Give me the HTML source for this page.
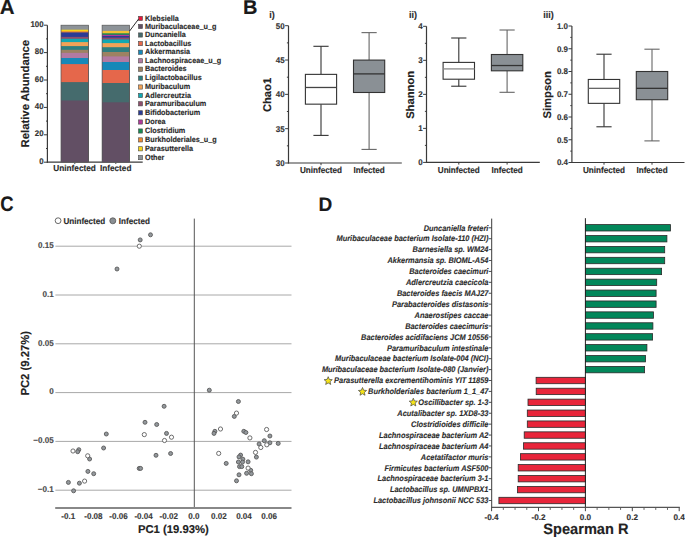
<!DOCTYPE html>
<html><head><meta charset="utf-8"><style>
html,body{margin:0;padding:0;background:#fff;}
svg{display:block;}
text{font-family:"Liberation Sans",sans-serif;font-weight:bold;text-rendering:geometricPrecision;stroke-width:0.14px;}
</style></head><body>
<svg width="685" height="537" viewBox="0 0 685 537">
<rect x="0" y="0" width="685" height="537" fill="#fff"/>
<text x="0" y="0" transform="translate(-0.30 13.80)" text-anchor="start" fill="#1a1a1a" stroke="#1a1a1a" style="font-size:20.50px;">A</text>
<text x="0" y="0" transform="translate(243.10 13.80)" text-anchor="start" fill="#1a1a1a" stroke="#1a1a1a" style="font-size:20.00px;">B</text>
<text x="0" y="0" transform="translate(0.17 211.20) scale(0.8772 1)" text-anchor="start" fill="#1a1a1a" stroke="#1a1a1a" style="font-size:21.09px;">C</text>
<text x="0" y="0" transform="translate(318.60 210.80) scale(0.9709 1)" text-anchor="start" fill="#1a1a1a" stroke="#1a1a1a" style="font-size:19.67px;">D</text>
<line x1="47.40" y1="25.20" x2="47.40" y2="162.70" stroke="#3a3a3a" stroke-width="1.2" />
<line x1="46.80" y1="162.20" x2="142.70" y2="162.20" stroke="#3a3a3a" stroke-width="1.2" />
<line x1="44.00" y1="162.20" x2="47.40" y2="162.20" stroke="#3a3a3a" stroke-width="1.0" />
<text x="0" y="0" transform="translate(43.60 163.70) scale(0.9615 1)" text-anchor="end" fill="#333" stroke="#333" style="font-size:8.22px;">0</text>
<line x1="46.00" y1="148.50" x2="47.40" y2="148.50" stroke="#3a3a3a" stroke-width="1.0" />
<line x1="44.00" y1="134.80" x2="47.40" y2="134.80" stroke="#3a3a3a" stroke-width="1.0" />
<text x="0" y="0" transform="translate(43.60 136.30) scale(0.9615 1)" text-anchor="end" fill="#333" stroke="#333" style="font-size:8.22px;">20</text>
<line x1="46.00" y1="121.10" x2="47.40" y2="121.10" stroke="#3a3a3a" stroke-width="1.0" />
<line x1="44.00" y1="107.40" x2="47.40" y2="107.40" stroke="#3a3a3a" stroke-width="1.0" />
<text x="0" y="0" transform="translate(43.60 108.90) scale(0.9615 1)" text-anchor="end" fill="#333" stroke="#333" style="font-size:8.22px;">40</text>
<line x1="46.00" y1="93.70" x2="47.40" y2="93.70" stroke="#3a3a3a" stroke-width="1.0" />
<line x1="44.00" y1="80.00" x2="47.40" y2="80.00" stroke="#3a3a3a" stroke-width="1.0" />
<text x="0" y="0" transform="translate(43.60 81.50) scale(0.9615 1)" text-anchor="end" fill="#333" stroke="#333" style="font-size:8.22px;">60</text>
<line x1="46.00" y1="66.30" x2="47.40" y2="66.30" stroke="#3a3a3a" stroke-width="1.0" />
<line x1="44.00" y1="52.60" x2="47.40" y2="52.60" stroke="#3a3a3a" stroke-width="1.0" />
<text x="0" y="0" transform="translate(43.60 54.10) scale(0.9615 1)" text-anchor="end" fill="#333" stroke="#333" style="font-size:8.22px;">80</text>
<line x1="46.00" y1="38.90" x2="47.40" y2="38.90" stroke="#3a3a3a" stroke-width="1.0" />
<line x1="44.00" y1="25.20" x2="47.40" y2="25.20" stroke="#3a3a3a" stroke-width="1.0" />
<text x="0" y="0" transform="translate(43.60 26.70) scale(0.9615 1)" text-anchor="end" fill="#333" stroke="#333" style="font-size:8.22px;">100</text>
<text x="0" y="0" transform="translate(29.30 147.40) rotate(-90)" text-anchor="start" fill="#222" stroke="#222" style="font-size:11.30px;">Relative Abundance</text>
<text x="0" y="0" transform="translate(74.60 170.90) scale(0.9524 1)" text-anchor="middle" fill="#2a2a2a" stroke="#2a2a2a" style="font-size:8.66px;">Uninfected</text>
<text x="0" y="0" transform="translate(115.70 170.90) scale(0.9524 1)" text-anchor="middle" fill="#2a2a2a" stroke="#2a2a2a" style="font-size:8.61px;">Infected</text>
<line x1="74.80" y1="162.20" x2="74.80" y2="164.00" stroke="#3a3a3a" stroke-width="0.9" />
<line x1="115.80" y1="162.20" x2="115.80" y2="164.00" stroke="#3a3a3a" stroke-width="0.9" />
<rect x="61.00" y="25.20" width="27.60" height="137.00" fill="#8d9398"/>
<rect x="61.00" y="29.70" width="27.60" height="132.50" fill="#f6d41a"/>
<rect x="61.00" y="31.20" width="27.60" height="131.00" fill="#ec8a36"/>
<rect x="61.00" y="32.40" width="27.60" height="129.80" fill="#2b3b95"/>
<rect x="61.00" y="36.90" width="27.60" height="125.30" fill="#8e4e6c"/>
<rect x="61.00" y="38.80" width="27.60" height="123.40" fill="#11a8b1"/>
<rect x="61.00" y="42.10" width="27.60" height="120.10" fill="#f2a257"/>
<rect x="61.00" y="46.10" width="27.60" height="116.10" fill="#2e7f80"/>
<rect x="61.00" y="49.80" width="27.60" height="112.40" fill="#9d8262"/>
<rect x="61.00" y="52.90" width="27.60" height="109.30" fill="#b27aa2"/>
<rect x="61.00" y="58.00" width="27.60" height="104.20" fill="#1788b8"/>
<rect x="61.00" y="64.10" width="27.60" height="98.10" fill="#e5674b"/>
<rect x="61.00" y="82.10" width="27.60" height="80.10" fill="#456b6d"/>
<rect x="61.00" y="100.50" width="27.60" height="61.70" fill="#624f64"/>
<rect x="61.00" y="25.2" width="27.60" height="137.00" fill="none" stroke="#555" stroke-width="0.7"/>
<rect x="102.10" y="25.20" width="27.40" height="137.00" fill="#8d9398"/>
<rect x="102.10" y="30.90" width="27.40" height="131.30" fill="#f4c133"/>
<rect x="102.10" y="33.30" width="27.40" height="128.90" fill="#168a52"/>
<rect x="102.10" y="34.80" width="27.40" height="127.40" fill="#b0399b"/>
<rect x="102.10" y="36.00" width="27.40" height="126.20" fill="#2b3b95"/>
<rect x="102.10" y="37.60" width="27.40" height="124.60" fill="#8e4e6c"/>
<rect x="102.10" y="39.40" width="27.40" height="122.80" fill="#11a8b1"/>
<rect x="102.10" y="43.10" width="27.40" height="119.10" fill="#f2a257"/>
<rect x="102.10" y="47.20" width="27.40" height="115.00" fill="#2e7f80"/>
<rect x="102.10" y="52.00" width="27.40" height="110.20" fill="#9d8262"/>
<rect x="102.10" y="56.40" width="27.40" height="105.80" fill="#b27aa2"/>
<rect x="102.10" y="62.00" width="27.40" height="100.20" fill="#1788b8"/>
<rect x="102.10" y="70.00" width="27.40" height="92.20" fill="#e5674b"/>
<rect x="102.10" y="83.00" width="27.40" height="79.20" fill="#456b6d"/>
<rect x="102.10" y="102.30" width="27.40" height="59.90" fill="#624f64"/>
<rect x="102.10" y="25.2" width="27.40" height="137.00" fill="none" stroke="#555" stroke-width="0.7"/>
<rect x="138.50" y="16.30" width="4.00" height="4.20" fill="#e5193b" stroke="#4a4a4a" stroke-width="0.6"/>
<text x="0" y="0" transform="translate(145.00 20.60) scale(0.9434 1)" text-anchor="start" fill="#2a2a2a" stroke="#2a2a2a" style="font-size:7.69px;">Klebsiella</text>
<rect x="138.50" y="24.40" width="4.00" height="4.20" fill="#624f64" stroke="#4a4a4a" stroke-width="0.6"/>
<text x="0" y="0" transform="translate(145.00 28.70) scale(0.9434 1)" text-anchor="start" fill="#2a2a2a" stroke="#2a2a2a" style="font-size:7.69px;">Muribaculaceae_u_g</text>
<rect x="138.50" y="32.90" width="4.00" height="4.20" fill="#456b6d" stroke="#4a4a4a" stroke-width="0.6"/>
<text x="0" y="0" transform="translate(145.00 37.20) scale(0.9434 1)" text-anchor="start" fill="#2a2a2a" stroke="#2a2a2a" style="font-size:7.69px;">Duncaniella</text>
<rect x="138.50" y="41.50" width="4.00" height="4.20" fill="#e5674b" stroke="#4a4a4a" stroke-width="0.6"/>
<text x="0" y="0" transform="translate(145.00 45.80) scale(0.9434 1)" text-anchor="start" fill="#2a2a2a" stroke="#2a2a2a" style="font-size:7.69px;">Lactobacillus</text>
<rect x="138.50" y="50.10" width="4.00" height="4.20" fill="#1788b8" stroke="#4a4a4a" stroke-width="0.6"/>
<text x="0" y="0" transform="translate(145.00 54.40) scale(0.9434 1)" text-anchor="start" fill="#2a2a2a" stroke="#2a2a2a" style="font-size:7.69px;">Akkermansia</text>
<rect x="138.50" y="58.70" width="4.00" height="4.20" fill="#b27aa2" stroke="#4a4a4a" stroke-width="0.6"/>
<text x="0" y="0" transform="translate(145.00 63.00) scale(0.9434 1)" text-anchor="start" fill="#2a2a2a" stroke="#2a2a2a" style="font-size:7.69px;">Lachnospiraceae_u_g</text>
<rect x="138.50" y="67.10" width="4.00" height="4.20" fill="#9d8262" stroke="#4a4a4a" stroke-width="0.6"/>
<text x="0" y="0" transform="translate(145.00 71.40) scale(0.9434 1)" text-anchor="start" fill="#2a2a2a" stroke="#2a2a2a" style="font-size:7.69px;">Bacteroides</text>
<rect x="138.50" y="76.00" width="4.00" height="4.20" fill="#2e7f80" stroke="#4a4a4a" stroke-width="0.6"/>
<text x="0" y="0" transform="translate(145.00 80.30) scale(0.9434 1)" text-anchor="start" fill="#2a2a2a" stroke="#2a2a2a" style="font-size:7.69px;">Ligilactobacillus</text>
<rect x="138.50" y="84.90" width="4.00" height="4.20" fill="#f2a257" stroke="#4a4a4a" stroke-width="0.6"/>
<text x="0" y="0" transform="translate(145.00 89.20) scale(0.9434 1)" text-anchor="start" fill="#2a2a2a" stroke="#2a2a2a" style="font-size:7.69px;">Muribaculum</text>
<rect x="138.50" y="93.40" width="4.00" height="4.20" fill="#11a8b1" stroke="#4a4a4a" stroke-width="0.6"/>
<text x="0" y="0" transform="translate(145.00 97.70) scale(0.9434 1)" text-anchor="start" fill="#2a2a2a" stroke="#2a2a2a" style="font-size:7.69px;">Adlercreutzia</text>
<rect x="138.50" y="101.70" width="4.00" height="4.20" fill="#8e4e6c" stroke="#4a4a4a" stroke-width="0.6"/>
<text x="0" y="0" transform="translate(145.00 106.00) scale(0.9434 1)" text-anchor="start" fill="#2a2a2a" stroke="#2a2a2a" style="font-size:7.69px;">Paramuribaculum</text>
<rect x="138.50" y="110.70" width="4.00" height="4.20" fill="#2b3b95" stroke="#4a4a4a" stroke-width="0.6"/>
<text x="0" y="0" transform="translate(145.00 115.00) scale(0.9434 1)" text-anchor="start" fill="#2a2a2a" stroke="#2a2a2a" style="font-size:7.69px;">Bifidobacterium</text>
<rect x="138.50" y="119.90" width="4.00" height="4.20" fill="#b0399b" stroke="#4a4a4a" stroke-width="0.6"/>
<text x="0" y="0" transform="translate(145.00 124.20) scale(0.9434 1)" text-anchor="start" fill="#2a2a2a" stroke="#2a2a2a" style="font-size:7.69px;">Dorea</text>
<rect x="138.50" y="128.90" width="4.00" height="4.20" fill="#168a52" stroke="#4a4a4a" stroke-width="0.6"/>
<text x="0" y="0" transform="translate(145.00 133.20) scale(0.9434 1)" text-anchor="start" fill="#2a2a2a" stroke="#2a2a2a" style="font-size:7.69px;">Clostridium</text>
<rect x="138.50" y="137.80" width="4.00" height="4.20" fill="#ec8a36" stroke="#4a4a4a" stroke-width="0.6"/>
<text x="0" y="0" transform="translate(145.00 142.10) scale(0.9434 1)" text-anchor="start" fill="#2a2a2a" stroke="#2a2a2a" style="font-size:7.69px;">Burkholderiales_u_g</text>
<rect x="138.50" y="146.70" width="4.00" height="4.20" fill="#f6d41a" stroke="#4a4a4a" stroke-width="0.6"/>
<text x="0" y="0" transform="translate(145.00 151.00) scale(0.9434 1)" text-anchor="start" fill="#2a2a2a" stroke="#2a2a2a" style="font-size:7.69px;">Parasutterella</text>
<rect x="138.50" y="155.50" width="4.00" height="4.20" fill="#8d9398" stroke="#4a4a4a" stroke-width="0.6"/>
<text x="0" y="0" transform="translate(145.00 159.80) scale(0.9434 1)" text-anchor="start" fill="#2a2a2a" stroke="#2a2a2a" style="font-size:7.69px;">Other</text>
<line x1="129.60" y1="31.00" x2="138.60" y2="19.00" stroke="#222" stroke-width="0.95" />
<line x1="288.50" y1="25.70" x2="288.50" y2="163.50" stroke="#3a3a3a" stroke-width="1.2" />
<line x1="287.90" y1="163.00" x2="401.80" y2="163.00" stroke="#3a3a3a" stroke-width="1.2" />
<line x1="285.10" y1="163.00" x2="288.50" y2="163.00" stroke="#3a3a3a" stroke-width="1.0" />
<text x="0" y="0" transform="translate(284.60 165.90) scale(0.9615 1)" text-anchor="end" fill="#333" stroke="#333" style="font-size:8.32px;">30</text>
<line x1="285.10" y1="128.68" x2="288.50" y2="128.68" stroke="#3a3a3a" stroke-width="1.0" />
<text x="0" y="0" transform="translate(284.60 131.58) scale(0.9615 1)" text-anchor="end" fill="#333" stroke="#333" style="font-size:8.32px;">35</text>
<line x1="285.10" y1="94.35" x2="288.50" y2="94.35" stroke="#3a3a3a" stroke-width="1.0" />
<text x="0" y="0" transform="translate(284.60 97.25) scale(0.9615 1)" text-anchor="end" fill="#333" stroke="#333" style="font-size:8.32px;">40</text>
<line x1="285.10" y1="60.02" x2="288.50" y2="60.02" stroke="#3a3a3a" stroke-width="1.0" />
<text x="0" y="0" transform="translate(284.60 62.92) scale(0.9615 1)" text-anchor="end" fill="#333" stroke="#333" style="font-size:8.32px;">45</text>
<line x1="285.10" y1="25.70" x2="288.50" y2="25.70" stroke="#3a3a3a" stroke-width="1.0" />
<text x="0" y="0" transform="translate(284.60 28.60) scale(0.9615 1)" text-anchor="end" fill="#333" stroke="#333" style="font-size:8.32px;">50</text>
<line x1="286.90" y1="145.84" x2="288.50" y2="145.84" stroke="#3a3a3a" stroke-width="1.0" />
<line x1="286.90" y1="111.51" x2="288.50" y2="111.51" stroke="#3a3a3a" stroke-width="1.0" />
<line x1="286.90" y1="77.19" x2="288.50" y2="77.19" stroke="#3a3a3a" stroke-width="1.0" />
<line x1="286.90" y1="42.86" x2="288.50" y2="42.86" stroke="#3a3a3a" stroke-width="1.0" />
<text x="0" y="0" transform="translate(271.40 94.95) rotate(-90)" text-anchor="middle" fill="#222" stroke="#222" style="font-size:11.20px;">Chao1</text>
<text x="0" y="0" transform="translate(269.30 17.80) scale(0.9524 1)" text-anchor="start" fill="#2a2a2a" stroke="#2a2a2a" style="font-size:9.45px;">i)</text>
<line x1="321.00" y1="46.30" x2="321.00" y2="74.37" stroke="#333" stroke-width="1.1" />
<line x1="321.00" y1="104.17" x2="321.00" y2="135.40" stroke="#333" stroke-width="1.1" />
<line x1="313.40" y1="46.30" x2="328.60" y2="46.30" stroke="#333" stroke-width="1.1" />
<line x1="313.40" y1="135.40" x2="328.60" y2="135.40" stroke="#333" stroke-width="1.1" />
<rect x="305.40" y="74.37" width="31.20" height="29.79" fill="#fff" stroke="#333" stroke-width="1.1"/>
<line x1="305.40" y1="87.48" x2="336.60" y2="87.48" stroke="#444" stroke-width="1.3" />
<line x1="369.10" y1="32.63" x2="369.10" y2="60.09" stroke="#666" stroke-width="1.1" />
<line x1="369.10" y1="92.50" x2="369.10" y2="149.41" stroke="#666" stroke-width="1.1" />
<line x1="361.50" y1="32.63" x2="376.70" y2="32.63" stroke="#666" stroke-width="1.1" />
<line x1="361.50" y1="149.41" x2="376.70" y2="149.41" stroke="#666" stroke-width="1.1" />
<rect x="353.50" y="60.09" width="31.20" height="32.40" fill="#8a9095" stroke="#333" stroke-width="1.1"/>
<line x1="353.50" y1="73.89" x2="384.70" y2="73.89" stroke="#333" stroke-width="1.3" />
<line x1="321.00" y1="163.00" x2="321.00" y2="165.20" stroke="#3a3a3a" stroke-width="1.0" />
<line x1="369.10" y1="163.00" x2="369.10" y2="165.20" stroke="#3a3a3a" stroke-width="1.0" />
<text x="0" y="0" transform="translate(321.00 173.30) scale(0.9259 1)" text-anchor="middle" fill="#2a2a2a" stroke="#2a2a2a" style="font-size:8.80px;">Uninfected</text>
<text x="0" y="0" transform="translate(369.10 173.30) scale(0.9259 1)" text-anchor="middle" fill="#2a2a2a" stroke="#2a2a2a" style="font-size:8.80px;">Infected</text>
<line x1="426.50" y1="26.30" x2="426.50" y2="162.90" stroke="#3a3a3a" stroke-width="1.2" />
<line x1="425.90" y1="162.40" x2="539.80" y2="162.40" stroke="#3a3a3a" stroke-width="1.2" />
<line x1="423.10" y1="162.40" x2="426.50" y2="162.40" stroke="#3a3a3a" stroke-width="1.0" />
<text x="0" y="0" transform="translate(422.60 165.30) scale(0.9615 1)" text-anchor="end" fill="#333" stroke="#333" style="font-size:8.32px;">0</text>
<line x1="423.10" y1="128.38" x2="426.50" y2="128.38" stroke="#3a3a3a" stroke-width="1.0" />
<text x="0" y="0" transform="translate(422.60 131.28) scale(0.9615 1)" text-anchor="end" fill="#333" stroke="#333" style="font-size:8.32px;">1</text>
<line x1="423.10" y1="94.35" x2="426.50" y2="94.35" stroke="#3a3a3a" stroke-width="1.0" />
<text x="0" y="0" transform="translate(422.60 97.25) scale(0.9615 1)" text-anchor="end" fill="#333" stroke="#333" style="font-size:8.32px;">2</text>
<line x1="423.10" y1="60.33" x2="426.50" y2="60.33" stroke="#3a3a3a" stroke-width="1.0" />
<text x="0" y="0" transform="translate(422.60 63.23) scale(0.9615 1)" text-anchor="end" fill="#333" stroke="#333" style="font-size:8.32px;">3</text>
<line x1="423.10" y1="26.30" x2="426.50" y2="26.30" stroke="#3a3a3a" stroke-width="1.0" />
<text x="0" y="0" transform="translate(422.60 29.20) scale(0.9615 1)" text-anchor="end" fill="#333" stroke="#333" style="font-size:8.32px;">4</text>
<line x1="424.90" y1="145.39" x2="426.50" y2="145.39" stroke="#3a3a3a" stroke-width="1.0" />
<line x1="424.90" y1="111.36" x2="426.50" y2="111.36" stroke="#3a3a3a" stroke-width="1.0" />
<line x1="424.90" y1="77.34" x2="426.50" y2="77.34" stroke="#3a3a3a" stroke-width="1.0" />
<line x1="424.90" y1="43.31" x2="426.50" y2="43.31" stroke="#3a3a3a" stroke-width="1.0" />
<text x="0" y="0" transform="translate(414.20 94.95) rotate(-90)" text-anchor="middle" fill="#222" stroke="#222" style="font-size:11.20px;">Shannon</text>
<text x="0" y="0" transform="translate(409.00 17.80) scale(0.9524 1)" text-anchor="start" fill="#2a2a2a" stroke="#2a2a2a" style="font-size:9.45px;">ii)</text>
<line x1="458.80" y1="38.00" x2="458.80" y2="62.40" stroke="#333" stroke-width="1.1" />
<line x1="458.80" y1="79.21" x2="458.80" y2="86.22" stroke="#333" stroke-width="1.1" />
<line x1="451.20" y1="38.00" x2="466.40" y2="38.00" stroke="#333" stroke-width="1.1" />
<line x1="451.20" y1="86.22" x2="466.40" y2="86.22" stroke="#333" stroke-width="1.1" />
<rect x="443.10" y="62.40" width="31.40" height="16.81" fill="#fff" stroke="#333" stroke-width="1.1"/>
<line x1="443.10" y1="68.90" x2="474.50" y2="68.90" stroke="#888" stroke-width="1.3" />
<line x1="507.10" y1="30.01" x2="507.10" y2="54.51" stroke="#666" stroke-width="1.1" />
<line x1="507.10" y1="70.80" x2="507.10" y2="92.31" stroke="#666" stroke-width="1.1" />
<line x1="499.50" y1="30.01" x2="514.70" y2="30.01" stroke="#666" stroke-width="1.1" />
<line x1="499.50" y1="92.31" x2="514.70" y2="92.31" stroke="#666" stroke-width="1.1" />
<rect x="491.40" y="54.51" width="31.40" height="16.30" fill="#8a9095" stroke="#333" stroke-width="1.1"/>
<line x1="491.40" y1="65.53" x2="522.80" y2="65.53" stroke="#333" stroke-width="1.3" />
<line x1="458.80" y1="162.40" x2="458.80" y2="164.60" stroke="#3a3a3a" stroke-width="1.0" />
<line x1="507.10" y1="162.40" x2="507.10" y2="164.60" stroke="#3a3a3a" stroke-width="1.0" />
<text x="0" y="0" transform="translate(458.80 172.70) scale(0.9259 1)" text-anchor="middle" fill="#2a2a2a" stroke="#2a2a2a" style="font-size:8.80px;">Uninfected</text>
<text x="0" y="0" transform="translate(507.10 172.70) scale(0.9259 1)" text-anchor="middle" fill="#2a2a2a" stroke="#2a2a2a" style="font-size:8.80px;">Infected</text>
<line x1="571.90" y1="26.00" x2="571.90" y2="163.00" stroke="#3a3a3a" stroke-width="1.2" />
<line x1="571.30" y1="162.50" x2="684.50" y2="162.50" stroke="#3a3a3a" stroke-width="1.2" />
<line x1="568.50" y1="162.50" x2="571.90" y2="162.50" stroke="#3a3a3a" stroke-width="1.0" />
<text x="0" y="0" transform="translate(568.00 165.40) scale(0.9615 1)" text-anchor="end" fill="#333" stroke="#333" style="font-size:8.32px;">0.4</text>
<line x1="568.50" y1="139.75" x2="571.90" y2="139.75" stroke="#3a3a3a" stroke-width="1.0" />
<text x="0" y="0" transform="translate(568.00 142.65) scale(0.9615 1)" text-anchor="end" fill="#333" stroke="#333" style="font-size:8.32px;">0.5</text>
<line x1="568.50" y1="117.00" x2="571.90" y2="117.00" stroke="#3a3a3a" stroke-width="1.0" />
<text x="0" y="0" transform="translate(568.00 119.90) scale(0.9615 1)" text-anchor="end" fill="#333" stroke="#333" style="font-size:8.32px;">0.6</text>
<line x1="568.50" y1="94.25" x2="571.90" y2="94.25" stroke="#3a3a3a" stroke-width="1.0" />
<text x="0" y="0" transform="translate(568.00 97.15) scale(0.9615 1)" text-anchor="end" fill="#333" stroke="#333" style="font-size:8.32px;">0.7</text>
<line x1="568.50" y1="71.50" x2="571.90" y2="71.50" stroke="#3a3a3a" stroke-width="1.0" />
<text x="0" y="0" transform="translate(568.00 74.40) scale(0.9615 1)" text-anchor="end" fill="#333" stroke="#333" style="font-size:8.32px;">0.8</text>
<line x1="568.50" y1="48.75" x2="571.90" y2="48.75" stroke="#3a3a3a" stroke-width="1.0" />
<text x="0" y="0" transform="translate(568.00 51.65) scale(0.9615 1)" text-anchor="end" fill="#333" stroke="#333" style="font-size:8.32px;">0.9</text>
<line x1="568.50" y1="26.00" x2="571.90" y2="26.00" stroke="#3a3a3a" stroke-width="1.0" />
<text x="0" y="0" transform="translate(568.00 28.90) scale(0.9615 1)" text-anchor="end" fill="#333" stroke="#333" style="font-size:8.32px;">1.0</text>
<line x1="570.30" y1="151.12" x2="571.90" y2="151.12" stroke="#3a3a3a" stroke-width="1.0" />
<line x1="570.30" y1="128.38" x2="571.90" y2="128.38" stroke="#3a3a3a" stroke-width="1.0" />
<line x1="570.30" y1="105.62" x2="571.90" y2="105.62" stroke="#3a3a3a" stroke-width="1.0" />
<line x1="570.30" y1="82.88" x2="571.90" y2="82.88" stroke="#3a3a3a" stroke-width="1.0" />
<line x1="570.30" y1="60.13" x2="571.90" y2="60.13" stroke="#3a3a3a" stroke-width="1.0" />
<line x1="570.30" y1="37.38" x2="571.90" y2="37.38" stroke="#3a3a3a" stroke-width="1.0" />
<text x="0" y="0" transform="translate(551.30 94.85) rotate(-90)" text-anchor="middle" fill="#222" stroke="#222" style="font-size:11.20px;">Simpson</text>
<text x="0" y="0" transform="translate(543.20 17.80) scale(0.9524 1)" text-anchor="start" fill="#2a2a2a" stroke="#2a2a2a" style="font-size:9.45px;">iii)</text>
<line x1="604.00" y1="54.21" x2="604.00" y2="79.46" stroke="#333" stroke-width="1.1" />
<line x1="604.00" y1="103.35" x2="604.00" y2="126.78" stroke="#333" stroke-width="1.1" />
<line x1="596.40" y1="54.21" x2="611.60" y2="54.21" stroke="#333" stroke-width="1.1" />
<line x1="596.40" y1="126.78" x2="611.60" y2="126.78" stroke="#333" stroke-width="1.1" />
<rect x="588.30" y="79.46" width="31.40" height="23.89" fill="#fff" stroke="#333" stroke-width="1.1"/>
<line x1="588.30" y1="88.34" x2="619.70" y2="88.34" stroke="#666" stroke-width="1.3" />
<line x1="652.00" y1="49.20" x2="652.00" y2="71.50" stroke="#666" stroke-width="1.1" />
<line x1="652.00" y1="99.71" x2="652.00" y2="140.89" stroke="#666" stroke-width="1.1" />
<line x1="644.40" y1="49.20" x2="659.60" y2="49.20" stroke="#666" stroke-width="1.1" />
<line x1="644.40" y1="140.89" x2="659.60" y2="140.89" stroke="#666" stroke-width="1.1" />
<rect x="636.30" y="71.50" width="31.40" height="28.21" fill="#8a9095" stroke="#333" stroke-width="1.1"/>
<line x1="636.30" y1="88.34" x2="667.70" y2="88.34" stroke="#333" stroke-width="1.3" />
<line x1="604.00" y1="162.50" x2="604.00" y2="164.70" stroke="#3a3a3a" stroke-width="1.0" />
<line x1="652.00" y1="162.50" x2="652.00" y2="164.70" stroke="#3a3a3a" stroke-width="1.0" />
<text x="0" y="0" transform="translate(604.00 172.80) scale(0.9259 1)" text-anchor="middle" fill="#2a2a2a" stroke="#2a2a2a" style="font-size:8.80px;">Uninfected</text>
<text x="0" y="0" transform="translate(652.00 172.80) scale(0.9259 1)" text-anchor="middle" fill="#2a2a2a" stroke="#2a2a2a" style="font-size:8.80px;">Infected</text>
<line x1="55.40" y1="246.20" x2="291.50" y2="246.20" stroke="#a8a8a8" stroke-width="1.0" />
<text x="0" y="0" transform="translate(53.80 247.90) scale(0.9615 1)" text-anchor="end" fill="#4a4a4a" stroke="#4a4a4a" style="font-size:8.42px;">0.15</text>
<line x1="55.40" y1="295.00" x2="291.50" y2="295.00" stroke="#a8a8a8" stroke-width="1.0" />
<text x="0" y="0" transform="translate(53.80 296.70) scale(0.9615 1)" text-anchor="end" fill="#4a4a4a" stroke="#4a4a4a" style="font-size:8.42px;">0.1</text>
<line x1="55.40" y1="343.80" x2="291.50" y2="343.80" stroke="#a8a8a8" stroke-width="1.0" />
<text x="0" y="0" transform="translate(53.80 345.50) scale(0.9615 1)" text-anchor="end" fill="#4a4a4a" stroke="#4a4a4a" style="font-size:8.42px;">0.05</text>
<line x1="55.40" y1="392.60" x2="291.50" y2="392.60" stroke="#a8a8a8" stroke-width="1.0" />
<text x="0" y="0" transform="translate(53.80 394.30) scale(0.9615 1)" text-anchor="end" fill="#4a4a4a" stroke="#4a4a4a" style="font-size:8.42px;">0</text>
<line x1="55.40" y1="441.40" x2="291.50" y2="441.40" stroke="#a8a8a8" stroke-width="1.0" />
<text x="0" y="0" transform="translate(53.80 443.10) scale(0.9615 1)" text-anchor="end" fill="#4a4a4a" stroke="#4a4a4a" style="font-size:8.42px;">−0.05</text>
<line x1="55.40" y1="490.20" x2="291.50" y2="490.20" stroke="#a8a8a8" stroke-width="1.0" />
<text x="0" y="0" transform="translate(53.80 491.90) scale(0.9615 1)" text-anchor="end" fill="#4a4a4a" stroke="#4a4a4a" style="font-size:8.42px;">−0.1</text>
<line x1="194.30" y1="218.60" x2="194.30" y2="508.00" stroke="#555" stroke-width="1.0" />
<line x1="55.20" y1="508.00" x2="291.50" y2="508.00" stroke="#888" stroke-width="1.8" />
<text x="0" y="0" transform="translate(68.30 519.20) scale(0.9615 1)" text-anchor="middle" fill="#3a3a3a" stroke="#3a3a3a" style="font-size:8.42px;">-0.1</text>
<text x="0" y="0" transform="translate(93.40 519.20) scale(0.9615 1)" text-anchor="middle" fill="#3a3a3a" stroke="#3a3a3a" style="font-size:8.42px;">-0.08</text>
<text x="0" y="0" transform="translate(118.50 519.20) scale(0.9615 1)" text-anchor="middle" fill="#3a3a3a" stroke="#3a3a3a" style="font-size:8.42px;">-0.06</text>
<text x="0" y="0" transform="translate(143.60 519.20) scale(0.9615 1)" text-anchor="middle" fill="#3a3a3a" stroke="#3a3a3a" style="font-size:8.42px;">-0.04</text>
<text x="0" y="0" transform="translate(168.70 519.20) scale(0.9615 1)" text-anchor="middle" fill="#3a3a3a" stroke="#3a3a3a" style="font-size:8.42px;">-0.02</text>
<text x="0" y="0" transform="translate(193.80 519.20) scale(0.9615 1)" text-anchor="middle" fill="#3a3a3a" stroke="#3a3a3a" style="font-size:8.42px;">0.0</text>
<text x="0" y="0" transform="translate(218.90 519.20) scale(0.9615 1)" text-anchor="middle" fill="#3a3a3a" stroke="#3a3a3a" style="font-size:8.42px;">0.02</text>
<text x="0" y="0" transform="translate(244.00 519.20) scale(0.9615 1)" text-anchor="middle" fill="#3a3a3a" stroke="#3a3a3a" style="font-size:8.42px;">0.04</text>
<text x="0" y="0" transform="translate(269.10 519.20) scale(0.9615 1)" text-anchor="middle" fill="#3a3a3a" stroke="#3a3a3a" style="font-size:8.42px;">0.06</text>
<text x="0" y="0" transform="translate(173.40 533.20)" text-anchor="middle" fill="#222" stroke="#222" style="font-size:11.30px;">PC1 (19.93%)</text>
<text x="0" y="0" transform="translate(29.00 363.30) rotate(-90) scale(0.9709 1)" text-anchor="middle" fill="#222" stroke="#222" style="font-size:11.64px;">PC2 (9.27%)</text>
<circle cx="58.10" cy="220.70" r="2.9" fill="#fff" stroke="#444" stroke-width="0.8"/>
<text x="0" y="0" transform="translate(63.40 223.70) scale(0.9524 1)" text-anchor="start" fill="#2a2a2a" stroke="#2a2a2a" style="font-size:8.51px;">Uninfected</text>
<circle cx="112.80" cy="220.80" r="3.0" fill="#8a8f93" stroke="#555" stroke-width="0.8"/>
<text x="0" y="0" transform="translate(118.80 223.70) scale(0.9524 1)" text-anchor="start" fill="#2a2a2a" stroke="#2a2a2a" style="font-size:8.51px;">Infected</text>
<circle cx="150.50" cy="234.80" r="2.0" fill="#93989c" stroke="#555" stroke-width="0.85"/>
<circle cx="140.20" cy="239.90" r="2.0" fill="#93989c" stroke="#555" stroke-width="0.85"/>
<circle cx="117.00" cy="269.00" r="2.0" fill="#93989c" stroke="#555" stroke-width="0.85"/>
<circle cx="106.30" cy="434.00" r="2.0" fill="#93989c" stroke="#555" stroke-width="0.85"/>
<circle cx="103.60" cy="448.00" r="2.0" fill="#93989c" stroke="#555" stroke-width="0.85"/>
<circle cx="78.80" cy="449.70" r="2.0" fill="#93989c" stroke="#555" stroke-width="0.85"/>
<circle cx="77.70" cy="451.70" r="2.0" fill="#93989c" stroke="#555" stroke-width="0.85"/>
<circle cx="89.60" cy="459.00" r="2.0" fill="#93989c" stroke="#555" stroke-width="0.85"/>
<circle cx="87.90" cy="471.40" r="2.0" fill="#93989c" stroke="#555" stroke-width="0.85"/>
<circle cx="93.70" cy="473.70" r="2.0" fill="#93989c" stroke="#555" stroke-width="0.85"/>
<circle cx="79.40" cy="483.20" r="2.0" fill="#93989c" stroke="#555" stroke-width="0.85"/>
<circle cx="68.40" cy="482.40" r="2.0" fill="#93989c" stroke="#555" stroke-width="0.85"/>
<circle cx="73.60" cy="490.80" r="2.0" fill="#93989c" stroke="#555" stroke-width="0.85"/>
<circle cx="164.10" cy="406.30" r="2.0" fill="#93989c" stroke="#555" stroke-width="0.85"/>
<circle cx="145.00" cy="422.30" r="2.0" fill="#93989c" stroke="#555" stroke-width="0.85"/>
<circle cx="156.70" cy="424.50" r="2.0" fill="#93989c" stroke="#555" stroke-width="0.85"/>
<circle cx="166.50" cy="433.40" r="2.0" fill="#93989c" stroke="#555" stroke-width="0.85"/>
<circle cx="156.00" cy="455.30" r="2.0" fill="#93989c" stroke="#555" stroke-width="0.85"/>
<circle cx="170.60" cy="453.50" r="2.0" fill="#93989c" stroke="#555" stroke-width="0.85"/>
<circle cx="139.20" cy="468.40" r="2.0" fill="#93989c" stroke="#555" stroke-width="0.85"/>
<circle cx="140.60" cy="468.40" r="2.0" fill="#93989c" stroke="#555" stroke-width="0.85"/>
<circle cx="209.30" cy="390.20" r="2.0" fill="#93989c" stroke="#555" stroke-width="0.85"/>
<circle cx="238.40" cy="401.50" r="2.0" fill="#93989c" stroke="#555" stroke-width="0.85"/>
<circle cx="234.30" cy="416.40" r="2.0" fill="#93989c" stroke="#555" stroke-width="0.85"/>
<circle cx="214.90" cy="431.30" r="2.0" fill="#93989c" stroke="#555" stroke-width="0.85"/>
<circle cx="214.00" cy="433.40" r="2.0" fill="#93989c" stroke="#555" stroke-width="0.85"/>
<circle cx="243.80" cy="431.30" r="2.0" fill="#93989c" stroke="#555" stroke-width="0.85"/>
<circle cx="245.90" cy="432.50" r="2.0" fill="#93989c" stroke="#555" stroke-width="0.85"/>
<circle cx="269.90" cy="436.00" r="2.0" fill="#93989c" stroke="#555" stroke-width="0.85"/>
<circle cx="264.30" cy="440.70" r="2.0" fill="#93989c" stroke="#555" stroke-width="0.85"/>
<circle cx="269.90" cy="442.80" r="2.0" fill="#93989c" stroke="#555" stroke-width="0.85"/>
<circle cx="259.10" cy="444.00" r="2.0" fill="#93989c" stroke="#555" stroke-width="0.85"/>
<circle cx="278.20" cy="443.40" r="2.0" fill="#93989c" stroke="#555" stroke-width="0.85"/>
<circle cx="256.40" cy="457.10" r="2.0" fill="#93989c" stroke="#555" stroke-width="0.85"/>
<circle cx="226.20" cy="463.40" r="2.0" fill="#93989c" stroke="#555" stroke-width="0.85"/>
<circle cx="240.60" cy="455.10" r="2.0" fill="#93989c" stroke="#555" stroke-width="0.85"/>
<circle cx="239.00" cy="456.90" r="2.0" fill="#93989c" stroke="#555" stroke-width="0.85"/>
<circle cx="242.90" cy="459.20" r="2.0" fill="#93989c" stroke="#555" stroke-width="0.85"/>
<circle cx="238.40" cy="462.00" r="2.0" fill="#93989c" stroke="#555" stroke-width="0.85"/>
<circle cx="242.50" cy="462.10" r="2.0" fill="#93989c" stroke="#555" stroke-width="0.85"/>
<circle cx="239.50" cy="466.60" r="2.0" fill="#93989c" stroke="#555" stroke-width="0.85"/>
<circle cx="241.80" cy="466.60" r="2.0" fill="#93989c" stroke="#555" stroke-width="0.85"/>
<circle cx="248.10" cy="461.80" r="2.0" fill="#93989c" stroke="#555" stroke-width="0.85"/>
<circle cx="250.70" cy="470.30" r="2.0" fill="#93989c" stroke="#555" stroke-width="0.85"/>
<circle cx="246.60" cy="473.30" r="2.0" fill="#93989c" stroke="#555" stroke-width="0.85"/>
<circle cx="251.40" cy="473.70" r="2.0" fill="#93989c" stroke="#555" stroke-width="0.85"/>
<circle cx="239.00" cy="474.80" r="2.0" fill="#93989c" stroke="#555" stroke-width="0.85"/>
<circle cx="236.50" cy="480.80" r="2.0" fill="#93989c" stroke="#555" stroke-width="0.85"/>
<circle cx="139.30" cy="246.20" r="2.1" fill="#fff" stroke="#555" stroke-width="0.85"/>
<circle cx="73.00" cy="451.00" r="2.1" fill="#fff" stroke="#555" stroke-width="0.85"/>
<circle cx="87.70" cy="455.80" r="2.1" fill="#fff" stroke="#555" stroke-width="0.85"/>
<circle cx="84.60" cy="481.10" r="2.1" fill="#fff" stroke="#555" stroke-width="0.85"/>
<circle cx="144.30" cy="434.60" r="2.1" fill="#fff" stroke="#555" stroke-width="0.85"/>
<circle cx="171.50" cy="437.20" r="2.1" fill="#fff" stroke="#555" stroke-width="0.85"/>
<circle cx="164.50" cy="440.50" r="2.1" fill="#fff" stroke="#555" stroke-width="0.85"/>
<circle cx="236.50" cy="413.10" r="2.1" fill="#fff" stroke="#555" stroke-width="0.85"/>
<circle cx="220.50" cy="429.00" r="2.1" fill="#fff" stroke="#555" stroke-width="0.85"/>
<circle cx="249.90" cy="437.90" r="2.1" fill="#fff" stroke="#555" stroke-width="0.85"/>
<circle cx="266.60" cy="429.50" r="2.1" fill="#fff" stroke="#555" stroke-width="0.85"/>
<circle cx="266.80" cy="444.80" r="2.1" fill="#fff" stroke="#555" stroke-width="0.85"/>
<circle cx="260.80" cy="447.50" r="2.1" fill="#fff" stroke="#555" stroke-width="0.85"/>
<circle cx="255.50" cy="452.40" r="2.1" fill="#fff" stroke="#555" stroke-width="0.85"/>
<circle cx="218.70" cy="453.40" r="2.1" fill="#fff" stroke="#555" stroke-width="0.85"/>
<circle cx="248.10" cy="468.10" r="2.1" fill="#fff" stroke="#555" stroke-width="0.85"/>
<rect x="585.40" y="224.60" width="85.10" height="6.4" fill="#02875a" stroke="#2a2a2a" stroke-width="0.8"/>
<line x1="488.70" y1="227.80" x2="491.70" y2="227.80" stroke="#3a3a3a" stroke-width="0.9" />
<text x="0" y="0" transform="translate(488.40 230.55) scale(0.9091 1)" text-anchor="end" fill="#2b2b2b" stroke="#2b2b2b" style="font-size:8.16px;font-style:italic;stroke-width:0.12px;">Duncaniella freteri</text>
<rect x="585.40" y="235.51" width="81.50" height="6.4" fill="#02875a" stroke="#2a2a2a" stroke-width="0.8"/>
<line x1="488.70" y1="238.71" x2="491.70" y2="238.71" stroke="#3a3a3a" stroke-width="0.9" />
<text x="0" y="0" transform="translate(488.40 241.46) scale(0.9091 1)" text-anchor="end" fill="#2b2b2b" stroke="#2b2b2b" style="font-size:8.16px;font-style:italic;stroke-width:0.12px;">Muribaculaceae bacterium Isolate-110 (HZI)</text>
<rect x="585.40" y="246.42" width="79.30" height="6.4" fill="#02875a" stroke="#2a2a2a" stroke-width="0.8"/>
<line x1="488.70" y1="249.62" x2="491.70" y2="249.62" stroke="#3a3a3a" stroke-width="0.9" />
<text x="0" y="0" transform="translate(488.40 252.37) scale(0.9091 1)" text-anchor="end" fill="#2b2b2b" stroke="#2b2b2b" style="font-size:8.16px;font-style:italic;stroke-width:0.12px;">Barnesiella sp. WM24</text>
<rect x="585.40" y="257.32" width="79.30" height="6.4" fill="#02875a" stroke="#2a2a2a" stroke-width="0.8"/>
<line x1="488.70" y1="260.52" x2="491.70" y2="260.52" stroke="#3a3a3a" stroke-width="0.9" />
<text x="0" y="0" transform="translate(488.40 263.27) scale(0.9091 1)" text-anchor="end" fill="#2b2b2b" stroke="#2b2b2b" style="font-size:8.16px;font-style:italic;stroke-width:0.12px;">Akkermansia sp. BIOML-A54</text>
<rect x="585.40" y="268.23" width="76.20" height="6.4" fill="#02875a" stroke="#2a2a2a" stroke-width="0.8"/>
<line x1="488.70" y1="271.43" x2="491.70" y2="271.43" stroke="#3a3a3a" stroke-width="0.9" />
<text x="0" y="0" transform="translate(488.40 274.18) scale(0.9091 1)" text-anchor="end" fill="#2b2b2b" stroke="#2b2b2b" style="font-size:8.16px;font-style:italic;stroke-width:0.12px;">Bacteroides caecimuri</text>
<rect x="585.40" y="279.14" width="71.30" height="6.4" fill="#02875a" stroke="#2a2a2a" stroke-width="0.8"/>
<line x1="488.70" y1="282.34" x2="491.70" y2="282.34" stroke="#3a3a3a" stroke-width="0.9" />
<text x="0" y="0" transform="translate(488.40 285.09) scale(0.9091 1)" text-anchor="end" fill="#2b2b2b" stroke="#2b2b2b" style="font-size:8.16px;font-style:italic;stroke-width:0.12px;">Adlercreutzia caecicola</text>
<rect x="585.40" y="290.05" width="70.70" height="6.4" fill="#02875a" stroke="#2a2a2a" stroke-width="0.8"/>
<line x1="488.70" y1="293.25" x2="491.70" y2="293.25" stroke="#3a3a3a" stroke-width="0.9" />
<text x="0" y="0" transform="translate(488.40 296.00) scale(0.9091 1)" text-anchor="end" fill="#2b2b2b" stroke="#2b2b2b" style="font-size:8.16px;font-style:italic;stroke-width:0.12px;">Bacteroides faecis MAJ27</text>
<rect x="585.40" y="300.96" width="70.70" height="6.4" fill="#02875a" stroke="#2a2a2a" stroke-width="0.8"/>
<line x1="488.70" y1="304.16" x2="491.70" y2="304.16" stroke="#3a3a3a" stroke-width="0.9" />
<text x="0" y="0" transform="translate(488.40 306.91) scale(0.9091 1)" text-anchor="end" fill="#2b2b2b" stroke="#2b2b2b" style="font-size:8.16px;font-style:italic;stroke-width:0.12px;">Parabacteroides distasonis</text>
<rect x="585.40" y="311.86" width="68.10" height="6.4" fill="#02875a" stroke="#2a2a2a" stroke-width="0.8"/>
<line x1="488.70" y1="315.06" x2="491.70" y2="315.06" stroke="#3a3a3a" stroke-width="0.9" />
<text x="0" y="0" transform="translate(488.40 317.81) scale(0.9091 1)" text-anchor="end" fill="#2b2b2b" stroke="#2b2b2b" style="font-size:8.16px;font-style:italic;stroke-width:0.12px;">Anaerostipes caccae</text>
<rect x="585.40" y="322.77" width="67.50" height="6.4" fill="#02875a" stroke="#2a2a2a" stroke-width="0.8"/>
<line x1="488.70" y1="325.97" x2="491.70" y2="325.97" stroke="#3a3a3a" stroke-width="0.9" />
<text x="0" y="0" transform="translate(488.40 328.72) scale(0.9091 1)" text-anchor="end" fill="#2b2b2b" stroke="#2b2b2b" style="font-size:8.16px;font-style:italic;stroke-width:0.12px;">Bacteroides caecimuris</text>
<rect x="585.40" y="333.68" width="67.20" height="6.4" fill="#02875a" stroke="#2a2a2a" stroke-width="0.8"/>
<line x1="488.70" y1="336.88" x2="491.70" y2="336.88" stroke="#3a3a3a" stroke-width="0.9" />
<text x="0" y="0" transform="translate(488.40 339.63) scale(0.9091 1)" text-anchor="end" fill="#2b2b2b" stroke="#2b2b2b" style="font-size:8.16px;font-style:italic;stroke-width:0.12px;">Bacteroides acidifaciens JCM 10556</text>
<rect x="585.40" y="344.59" width="61.50" height="6.4" fill="#02875a" stroke="#2a2a2a" stroke-width="0.8"/>
<line x1="488.70" y1="347.79" x2="491.70" y2="347.79" stroke="#3a3a3a" stroke-width="0.9" />
<text x="0" y="0" transform="translate(488.40 350.54) scale(0.9091 1)" text-anchor="end" fill="#2b2b2b" stroke="#2b2b2b" style="font-size:8.16px;font-style:italic;stroke-width:0.12px;">Paramuribaculum intestinale</text>
<rect x="585.40" y="355.50" width="60.10" height="6.4" fill="#02875a" stroke="#2a2a2a" stroke-width="0.8"/>
<line x1="488.70" y1="358.70" x2="491.70" y2="358.70" stroke="#3a3a3a" stroke-width="0.9" />
<text x="0" y="0" transform="translate(488.40 361.45) scale(0.9091 1)" text-anchor="end" fill="#2b2b2b" stroke="#2b2b2b" style="font-size:8.16px;font-style:italic;stroke-width:0.12px;">Muribaculaceae bacterium Isolate-004 (NCI)</text>
<rect x="585.40" y="366.40" width="59.20" height="6.4" fill="#02875a" stroke="#2a2a2a" stroke-width="0.8"/>
<line x1="488.70" y1="369.60" x2="491.70" y2="369.60" stroke="#3a3a3a" stroke-width="0.9" />
<text x="0" y="0" transform="translate(488.40 372.35) scale(0.9091 1)" text-anchor="end" fill="#2b2b2b" stroke="#2b2b2b" style="font-size:8.16px;font-style:italic;stroke-width:0.12px;">Muribaculaceae bacterium Isolate-080 (Janvier)</text>
<rect x="536.10" y="377.31" width="49.30" height="6.4" fill="#e8253a" stroke="#2a2a2a" stroke-width="0.8"/>
<line x1="488.70" y1="380.51" x2="491.70" y2="380.51" stroke="#3a3a3a" stroke-width="0.9" />
<text x="0" y="0" transform="translate(488.40 383.26) scale(0.9091 1)" text-anchor="end" fill="#2b2b2b" stroke="#2b2b2b" style="font-size:8.16px;font-style:italic;stroke-width:0.12px;">Parasutterella excrementihominis YIT 11859</text>
<rect x="536.20" y="388.22" width="49.20" height="6.4" fill="#e8253a" stroke="#2a2a2a" stroke-width="0.8"/>
<line x1="488.70" y1="391.42" x2="491.70" y2="391.42" stroke="#3a3a3a" stroke-width="0.9" />
<text x="0" y="0" transform="translate(488.40 394.17) scale(0.9091 1)" text-anchor="end" fill="#2b2b2b" stroke="#2b2b2b" style="font-size:8.16px;font-style:italic;stroke-width:0.12px;">Burkholderiales bacterium 1_1_47</text>
<rect x="528.00" y="399.13" width="57.40" height="6.4" fill="#e8253a" stroke="#2a2a2a" stroke-width="0.8"/>
<line x1="488.70" y1="402.33" x2="491.70" y2="402.33" stroke="#3a3a3a" stroke-width="0.9" />
<text x="0" y="0" transform="translate(488.40 405.08) scale(0.9091 1)" text-anchor="end" fill="#2b2b2b" stroke="#2b2b2b" style="font-size:8.16px;font-style:italic;stroke-width:0.12px;">Oscillibacter sp. 1-3</text>
<rect x="527.30" y="410.04" width="58.10" height="6.4" fill="#e8253a" stroke="#2a2a2a" stroke-width="0.8"/>
<line x1="488.70" y1="413.24" x2="491.70" y2="413.24" stroke="#3a3a3a" stroke-width="0.9" />
<text x="0" y="0" transform="translate(488.40 415.99) scale(0.9091 1)" text-anchor="end" fill="#2b2b2b" stroke="#2b2b2b" style="font-size:8.16px;font-style:italic;stroke-width:0.12px;">Acutalibacter sp. 1XD8-33</text>
<rect x="527.30" y="420.94" width="58.10" height="6.4" fill="#e8253a" stroke="#2a2a2a" stroke-width="0.8"/>
<line x1="488.70" y1="424.14" x2="491.70" y2="424.14" stroke="#3a3a3a" stroke-width="0.9" />
<text x="0" y="0" transform="translate(488.40 426.89) scale(0.9091 1)" text-anchor="end" fill="#2b2b2b" stroke="#2b2b2b" style="font-size:8.16px;font-style:italic;stroke-width:0.12px;">Clostridioides difficile</text>
<rect x="524.20" y="431.85" width="61.20" height="6.4" fill="#e8253a" stroke="#2a2a2a" stroke-width="0.8"/>
<line x1="488.70" y1="435.05" x2="491.70" y2="435.05" stroke="#3a3a3a" stroke-width="0.9" />
<text x="0" y="0" transform="translate(488.40 437.80) scale(0.9091 1)" text-anchor="end" fill="#2b2b2b" stroke="#2b2b2b" style="font-size:8.16px;font-style:italic;stroke-width:0.12px;">Lachnospiraceae bacterium A2</text>
<rect x="523.50" y="442.76" width="61.90" height="6.4" fill="#e8253a" stroke="#2a2a2a" stroke-width="0.8"/>
<line x1="488.70" y1="445.96" x2="491.70" y2="445.96" stroke="#3a3a3a" stroke-width="0.9" />
<text x="0" y="0" transform="translate(488.40 448.71) scale(0.9091 1)" text-anchor="end" fill="#2b2b2b" stroke="#2b2b2b" style="font-size:8.16px;font-style:italic;stroke-width:0.12px;">Lachnospiraceae bacterium A4</text>
<rect x="520.40" y="453.67" width="65.00" height="6.4" fill="#e8253a" stroke="#2a2a2a" stroke-width="0.8"/>
<line x1="488.70" y1="456.87" x2="491.70" y2="456.87" stroke="#3a3a3a" stroke-width="0.9" />
<text x="0" y="0" transform="translate(488.40 459.62) scale(0.9091 1)" text-anchor="end" fill="#2b2b2b" stroke="#2b2b2b" style="font-size:8.16px;font-style:italic;stroke-width:0.12px;">Acetatifactor muris</text>
<rect x="518.20" y="464.58" width="67.20" height="6.4" fill="#e8253a" stroke="#2a2a2a" stroke-width="0.8"/>
<line x1="488.70" y1="467.78" x2="491.70" y2="467.78" stroke="#3a3a3a" stroke-width="0.9" />
<text x="0" y="0" transform="translate(488.40 470.53) scale(0.9091 1)" text-anchor="end" fill="#2b2b2b" stroke="#2b2b2b" style="font-size:8.16px;font-style:italic;stroke-width:0.12px;">Firmicutes bacterium ASF500</text>
<rect x="518.20" y="475.48" width="67.20" height="6.4" fill="#e8253a" stroke="#2a2a2a" stroke-width="0.8"/>
<line x1="488.70" y1="478.68" x2="491.70" y2="478.68" stroke="#3a3a3a" stroke-width="0.9" />
<text x="0" y="0" transform="translate(488.40 481.43) scale(0.9091 1)" text-anchor="end" fill="#2b2b2b" stroke="#2b2b2b" style="font-size:8.16px;font-style:italic;stroke-width:0.12px;">Lachnospiraceae bacterium 3-1</text>
<rect x="517.50" y="486.39" width="67.90" height="6.4" fill="#e8253a" stroke="#2a2a2a" stroke-width="0.8"/>
<line x1="488.70" y1="489.59" x2="491.70" y2="489.59" stroke="#3a3a3a" stroke-width="0.9" />
<text x="0" y="0" transform="translate(488.40 492.34) scale(0.9091 1)" text-anchor="end" fill="#2b2b2b" stroke="#2b2b2b" style="font-size:8.16px;font-style:italic;stroke-width:0.12px;">Lactobacillus sp. UMNPBX1</text>
<rect x="498.90" y="497.30" width="86.50" height="6.4" fill="#e8253a" stroke="#2a2a2a" stroke-width="0.8"/>
<line x1="488.70" y1="500.50" x2="491.70" y2="500.50" stroke="#3a3a3a" stroke-width="0.9" />
<text x="0" y="0" transform="translate(488.40 503.25) scale(0.9091 1)" text-anchor="end" fill="#2b2b2b" stroke="#2b2b2b" style="font-size:8.16px;font-style:italic;stroke-width:0.12px;">Lactobacillus johnsonii NCC 533</text>
<line x1="491.70" y1="218.60" x2="491.70" y2="507.90" stroke="#3a3a3a" stroke-width="1.0" />
<line x1="585.40" y1="218.20" x2="585.40" y2="507.40" stroke="#222" stroke-width="1.0" />
<line x1="491.20" y1="507.40" x2="679.80" y2="507.40" stroke="#555" stroke-width="1.1" />
<line x1="491.60" y1="507.40" x2="491.60" y2="511.20" stroke="#444" stroke-width="1.0" />
<text x="0" y="0" transform="translate(491.60 519.60)" text-anchor="middle" fill="#333" stroke="#333" style="font-size:8.20px;">-0.4</text>
<line x1="503.32" y1="507.40" x2="503.32" y2="509.90" stroke="#555" stroke-width="0.9" />
<line x1="515.05" y1="507.40" x2="515.05" y2="509.90" stroke="#555" stroke-width="0.9" />
<line x1="526.77" y1="507.40" x2="526.77" y2="509.90" stroke="#555" stroke-width="0.9" />
<line x1="538.50" y1="507.40" x2="538.50" y2="511.20" stroke="#444" stroke-width="1.0" />
<text x="0" y="0" transform="translate(538.50 519.60)" text-anchor="middle" fill="#333" stroke="#333" style="font-size:8.20px;">-0.2</text>
<line x1="550.23" y1="507.40" x2="550.23" y2="509.90" stroke="#555" stroke-width="0.9" />
<line x1="561.95" y1="507.40" x2="561.95" y2="509.90" stroke="#555" stroke-width="0.9" />
<line x1="573.67" y1="507.40" x2="573.67" y2="509.90" stroke="#555" stroke-width="0.9" />
<line x1="585.40" y1="507.40" x2="585.40" y2="511.20" stroke="#444" stroke-width="1.0" />
<text x="0" y="0" transform="translate(585.40 519.60)" text-anchor="middle" fill="#333" stroke="#333" style="font-size:8.20px;">0.0</text>
<line x1="597.12" y1="507.40" x2="597.12" y2="509.90" stroke="#555" stroke-width="0.9" />
<line x1="608.85" y1="507.40" x2="608.85" y2="509.90" stroke="#555" stroke-width="0.9" />
<line x1="620.57" y1="507.40" x2="620.57" y2="509.90" stroke="#555" stroke-width="0.9" />
<line x1="632.30" y1="507.40" x2="632.30" y2="511.20" stroke="#444" stroke-width="1.0" />
<text x="0" y="0" transform="translate(632.30 519.60)" text-anchor="middle" fill="#333" stroke="#333" style="font-size:8.20px;">0.2</text>
<line x1="644.02" y1="507.40" x2="644.02" y2="509.90" stroke="#555" stroke-width="0.9" />
<line x1="655.75" y1="507.40" x2="655.75" y2="509.90" stroke="#555" stroke-width="0.9" />
<line x1="667.48" y1="507.40" x2="667.48" y2="509.90" stroke="#555" stroke-width="0.9" />
<line x1="679.20" y1="507.40" x2="679.20" y2="511.20" stroke="#444" stroke-width="1.0" />
<text x="0" y="0" transform="translate(679.20 519.60)" text-anchor="middle" fill="#333" stroke="#333" style="font-size:8.20px;">0.4</text>
<text x="0" y="0" transform="translate(585.90 533.80) scale(0.9709 1)" text-anchor="middle" fill="#222" stroke="#222" style="font-size:15.04px;">Spearman R</text>
<polygon points="328.20,376.70 329.35,379.42 332.29,379.67 330.05,381.60 330.73,384.48 328.20,382.95 325.67,384.48 326.35,381.60 324.11,379.67 327.05,379.42" fill="#f6e418" stroke="#3a3a3a" stroke-width="0.65"/>
<polygon points="362.50,387.50 363.65,390.22 366.59,390.47 364.35,392.40 365.03,395.28 362.50,393.75 359.97,395.28 360.65,392.40 358.41,390.47 361.35,390.22" fill="#f6e418" stroke="#3a3a3a" stroke-width="0.65"/>
<polygon points="413.30,398.20 414.45,400.92 417.39,401.17 415.15,403.10 415.83,405.98 413.30,404.45 410.77,405.98 411.45,403.10 409.21,401.17 412.15,400.92" fill="#f6e418" stroke="#3a3a3a" stroke-width="0.65"/>
</svg>
</body></html>
